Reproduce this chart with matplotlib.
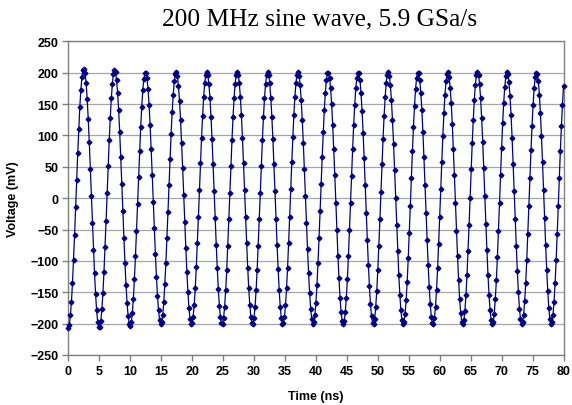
import numpy as np
import matplotlib
matplotlib.use("Agg")
import matplotlib.pyplot as plt

voltage_mv = [
    -207, -202, -187, -165, -135, -98, -58, -14, 29, 72,
    111, 146, 173, 193, 204, 206, 199, 183, 158, 126,
    89, 47, 4, -40, -82, -120, -153, -179, -197, -206,
    -205, -196, -177, -151, -117, -78, -36, 8, 51, 92,
    128, 159, 182, 198, 204, 201, 188, 168, 140, 105,
    66, 23, -21, -63, -103, -138, -167, -188, -200, -204,
    -198, -183, -160, -129, -93, -52, -9, 34, 75, 113,
    146, 172, 190, 199, 200, 191, 174, 148, 116, 78,
    37, -6, -48, -89, -125, -156, -179, -194, -201, -198,
    -186, -166, -137, -103, -64, -22, 21, 63, 103, 137,
    165, 186, 198, 201, 194, 179, 155, 125, 88, 48,
    5, -38, -79, -117, -149, -175, -192, -200, -199, -189,
    -170, -144, -110, -72, -30, 13, 56, 96, 131, 161,
    183, 196, 201, 196, 182, 160, 130, 94, 54, 11,
    -32, -74, -112, -145, -172, -190, -199, -200, -191, -173,
    -147, -114, -76, -34, 9, 52, 92, 129, 159, 182,
    196, 201, 197, 183, 161, 132, 96, 56, 13, -30,
    -72, -111, -144, -171, -190, -199, -200, -191, -173, -147,
    -114, -76, -34, 9, 52, 93, 129, 159, 182, 196,
    201, 196, 183, 160, 130, 94, 54, 11, -33, -75,
    -113, -146, -173, -191, -200, -199, -190, -171, -144, -111,
    -72, -30, 14, 57, 97, 133, 162, 184, 197, 201,
    195, 180, 156, 125, 88, 47, 4, -40, -81, -119,
    -151, -176, -193, -200, -198, -187, -167, -138, -104, -64,
    -21, 23, 66, 105, 140, 168, 188, 199, 200, 192,
    175, 150, 117, 79, 37, -7, -51, -92, -128, -159,
    -182, -196, -201, -196, -182, -159, -129, -92, -51, -8,
    36, 78, 117, 149, 175, 192, 200, 199, 188, 167,
    139, 104, 64, 21, -23, -66, -106, -140, -168, -188,
    -199, -200, -192, -174, -148, -115, -76, -34, 10, 54,
    95, 131, 161, 184, 197, 201, 195, 180, 156, 124,
    87, 45, 1, -42, -85, -122, -154, -179, -195, -201,
    -197, -184, -163, -133, -96, -55, -12, 32, 75, 114,
    147, 174, 192, 200, 199, 188, 168, 140, 105, 65,
    21, -23, -66, -106, -141, -169, -189, -199, -200, -191,
    -173, -146, -112, -73, -30, 15, 58, 99, 135, 165,
    186, 198, 201, 193, 176, 151, 118, 79, 37, -7,
    -52, -93, -130, -161, -183, -197, -201, -195, -180, -155,
    -123, -85, -43, 1, 46, 88, 125, 157, 181, 196,
    201, 196, 182, 159, 127, 90, 48, 4, -41, -83,
    -122, -154, -179, -195, -201, -197, -184, -161, -131, -94,
    -52, -8, 37, 80, 119, 152, 177, 194, 201, 198,
    185, 163, 133, 96, 55, 11, -34, -77, -116, -150,
    -176, -193, -201, -198, -186, -164, -135, -98, -57, -12,
    32, 76, 115, 149, 175, 193, 200, 198, 186, 165,
    135, 99, 58, 13, -32, -75, -115, -148, -175, -193,
    -200, -198, -186, -165, -135, -99, -57, -13, 32, 75,
    115, 149, 178,
]
sample_rate_gsps = 5.9
time_ns = np.arange(len(voltage_mv)) / sample_rate_gsps

x_ticks = list(range(0, 81, 5))
y_ticks = list(range(-250, 251, 50))

title = "200 MHz sine wave, 5.9 GSa/s"
x_label = "Time (ns)"
y_label = "Voltage (mV)"

W, H = 572, 406
fig = plt.figure(figsize=(W / 100, H / 100), dpi=100)
left, right, top, bottom = 68.3, 563.5, 42.3, 356.0
ax = fig.add_axes([left / W, 1 - bottom / H, (right - left) / W, (bottom - top) / H])

ax.plot(time_ns, voltage_mv, color="#000080", lw=0.9, marker="D", ms=2.4,
        mfc="#000080", mec="#000080", clip_on=False, zorder=3)

ax.set_xlim(0, 80)
ax.set_ylim(-250, 250)
ax.set_xticks(x_ticks)
ax.set_yticks(y_ticks)
ax.yaxis.grid(True, color="#a6a6a6", lw=0.9)
ax.xaxis.grid(False)
ax.set_axisbelow(True)

for s in ax.spines.values():
    s.set_color("#808080")
    s.set_linewidth(1.0)

ax.tick_params(direction="out", length=4, width=1.0, color="#808080",
               labelsize=9, pad=3)
for lbl in ax.get_xticklabels() + ax.get_yticklabels():
    lbl.set_fontfamily("Liberation Sans")
    lbl.set_fontweight("bold")

fig.text(320 / W, 1 - 19 / H, title, ha="center", va="center",
         fontsize=18.3, family="Liberation Serif")
fig.text(316 / W, 1 - 397 / H, x_label, ha="center", va="center",
         fontsize=9, family="Liberation Sans", fontweight="bold")
fig.text(13 / W, 1 - 199 / H, y_label, ha="center", va="center", rotation=90,
         fontsize=9, family="Liberation Sans", fontweight="bold")

fig.savefig("out.png", dpi=100)
